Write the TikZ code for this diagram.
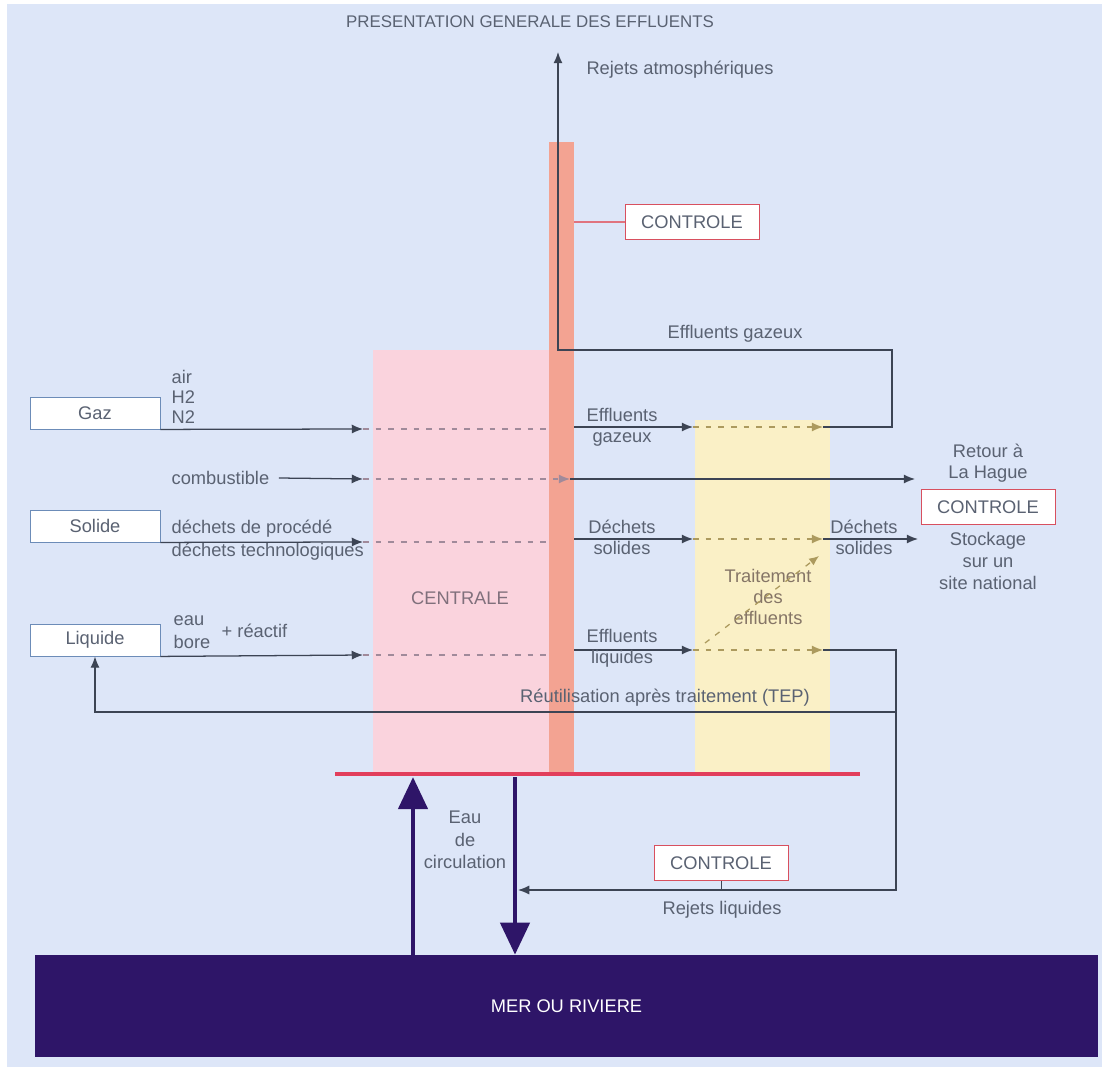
\documentclass[tikz,border=0pt]{standalone}
\usepackage{fontspec}
\setmainfont{Liberation Sans}
\usetikzlibrary{arrows.meta,positioning}
\definecolor{bgblue}{HTML}{DDE6F8}
\definecolor{txtgray}{HTML}{5A6272}
\definecolor{boxblue}{HTML}{6C8CB8}
\definecolor{ctrlred}{HTML}{D8505F}
\definecolor{linegray}{HTML}{3C4454}
\definecolor{dashpink}{HTML}{A08A9A}
\definecolor{dasholive}{HTML}{AC9A5E}
\definecolor{plantpink}{HTML}{FAD3DD}
\definecolor{stackred}{HTML}{F3A392}
\definecolor{treatyellow}{HTML}{FAF0C6}
\definecolor{barred}{HTML}{E23E5C}
\definecolor{seablue}{HTML}{2E1568}
\definecolor{plantgray}{HTML}{80707C}
\definecolor{treatgray}{HTML}{857566}
\begin{document}
\begin{tikzpicture}[
            x=0.025cm, y=-0.025cm,
            every node/.style={font=\fontsize{13}{15}\selectfont, text=txtgray, inner sep=1pt},
            srcbox/.style={draw=boxblue, fill=white, line width=0.6pt, minimum width=3.25cm, minimum height=0.8cm},
            ctrlbox/.style={draw=ctrlred, fill=white, line width=0.6pt, minimum width=3.35cm, minimum height=0.88cm},
            flow/.style={draw=linegray, line width=0.9pt, -{Latex[length=8pt,width=6.5pt]}},
            pipe/.style={draw=linegray, line width=0.9pt},
            dashin/.style={draw=dashpink, line width=0.9pt, dash pattern=on 4pt off 5pt},
            dashtr/.style={draw=dasholive, line width=0.9pt, dash pattern=on 4pt off 5pt},
            bigflow/.style={draw=seablue, line width=3.5pt, -{Triangle[length=0.8cm,width=0.72cm]}}
        ]
        \useasboundingbox (0,0) rectangle (1102,1077);
        \fill[bgblue] (7,4) rectangle (1102,1067);

        \fill[plantpink] (373,350) rectangle (549,772);
        \fill[treatyellow] (695,420) rectangle (830,772);
        \fill[stackred] (549,142) rectangle (574,772);
        \draw[barred, line width=3.5pt] (335,774) -- (860,774);

        \node[font=\fontsize{12}{14}\selectfont] (title) at (530,22) {PRESENTATION GENERALE DES EFFLUENTS};
        \node (atmos) at (680,70) {Rejets atmosphériques};
        \node[ctrlbox] (ctrlA) at (692,222) {CONTROLE};
        \coordinate (stackA) at (574,222);
        \draw[ctrlred!80, line width=0.9pt] (stackA) -- (ctrlA);

        % sources
        \node[srcbox] (gaz) at (95,413) {Gaz};
        \node[srcbox] (solide) at (95,526) {Solide};
        \node[srcbox] (liquide) at (95,640) {Liquide};
        \node[anchor=west] (air) at (170,377) {air};
        \node[anchor=west] (hdeux) at (170,397) {H2};
        \node[anchor=west] (ndeux) at (170,417) {N2};
        \node[anchor=west] (combus) at (170,478) {combustible};
        \node[anchor=west] (procede) at (170,529) {déchets de procédé};
        \node[anchor=west] (techno) at (170,552) {déchets technologiques};
        \node[anchor=west] (eau) at (172,621) {eau};
        \node[anchor=west] (bore) at (172,642) {bore};
        \node[anchor=west] (reactif) at (220,631) {+ réactif};

        \node[text=plantgray] (centrale) at (460,598) {CENTRALE};
        \node[align=center, text=treatgray] (traite) at (768,597) {Traitement\\des\\effluents};

        % rows
        \coordinate (inG) at (363,429);
        \coordinate (inC) at (363,479);
        \coordinate (inS) at (363,542);
        \coordinate (inL) at (363,655);
        \coordinate (stG) at (549,429);
        \coordinate (stS) at (549,542);
        \coordinate (stL) at (549,655);
        \coordinate (tipC) at (570,479);
        \coordinate (soG) at (574,427);
        \coordinate (soS) at (574,539);
        \coordinate (soL) at (574,650);
        \coordinate (tGa) at (693,427);
        \coordinate (tSa) at (693,539);
        \coordinate (tLa) at (693,650);
        \coordinate (tGb) at (823,427);
        \coordinate (tSb) at (823,539);
        \coordinate (tLb) at (823,650);

        \draw[flow] (gaz.south east) -- (inG);
        \draw[flow] (combus.east) ++(8,0) coordinate (cL) -- (inC);
        \draw[flow] (solide.south east) -- (inS);
        \draw[flow] (liquide.south east) -- (inL);
        \foreach \a/\b in {inG/stG, inS/stS, inL/stL}
            \draw[dashin] (\a) -- (\b);
        \draw[dashin, -{Latex[length=8pt,width=6.5pt]}] (inC) -- (tipC);

        \draw[flow] (soG) -- (tGa);
        \draw[flow] (soS) -- (tSa);
        \draw[flow] (soL) -- (tLa);
        \foreach \a/\b in {tGa/tGb, tSa/tSb, tLa/tLb}
            \draw[dashtr, -{Latex[length=8pt,width=6.5pt]}] (\a) -- (\b);
        \node[align=center] (effgA) at (622,427) {Effluents\\gazeux};
        \node[align=center] (dechA) at (622,537) {Déchets\\solides};
        \node[align=center] (effl) at (622,648) {Effluents\\liquides};

        % gaz vers cheminee
        \coordinate (gasB) at (892,427);
        \coordinate (gasR) at (892,350);
        \coordinate (gasJ) at (558,350);
        \coordinate (atm) at (558,52);
        \draw[flow] (tGb) -- (gasB) -- (gasR) -- (gasJ) -- (atm);
        \node (effgaz) at (735,334) {Effluents gazeux};

        % combustible et dechets
        \coordinate (hague) at (915,479);
        \draw[flow] (tipC) -- (hague);
        \coordinate (stock) at (918,539);
        \draw[flow] (tSb) -- (stock);
        \node[align=center] (dechB) at (864,537) {Déchets\\solides};
        \coordinate (liqT) at (705,643);
        \coordinate (solT) at (819,556);
        \draw[dashtr, -{Latex[length=7pt,width=6pt]}] (liqT) -- (solT);
        \node[align=center] (retour) at (988,463) {Retour à\\La Hague};
        \node[ctrlbox] (ctrlB) at (988,507) {CONTROLE};
        \node[align=center, font=\fontsize{13}{15.5}\selectfont] (stockage) at (988,561) {Stockage\\sur un\\site national};

        % liquides
        \coordinate (liqR) at (896,650);
        \coordinate (liqB) at (896,890);
        \coordinate (rejet) at (518,890);
        \coordinate (reuseR) at (896,712);
        \coordinate (reuseL) at (95,712);
        \draw[flow] (tLb) -- (liqR) -- (liqB) -- (rejet);
        \draw[flow] (reuseR) -- (reuseL) -- (liquide.south);
        \node (reuse) at (665,698) {Réutilisation après traitement (TEP)};
        \node[ctrlbox] (ctrlC) at (721,863) {CONTROLE};
        \draw[pipe, line width=0.5pt] (ctrlC.south) -- (ctrlC.south |- liqB);
        \node (rejliq) at (722,910) {Rejets liquides};

        % eau de circulation
        \node[fill=seablue, minimum width=26.58cm, minimum height=2.55cm, text=white] (sea) at (566.5,1006) {MER OU RIVIERE};
        \coordinate (plantUp) at (413,777);
        \coordinate (plantDn) at (515,777);
        \draw[bigflow] (sea.north -| plantUp) -- (plantUp);
        \draw[bigflow] (plantDn) -- (sea.north -| plantDn);
        \node[align=center, font=\fontsize{13}{16}\selectfont] (circ) at (465,840) {Eau\\de\\circulation};
    \end{tikzpicture}
\end{document}
